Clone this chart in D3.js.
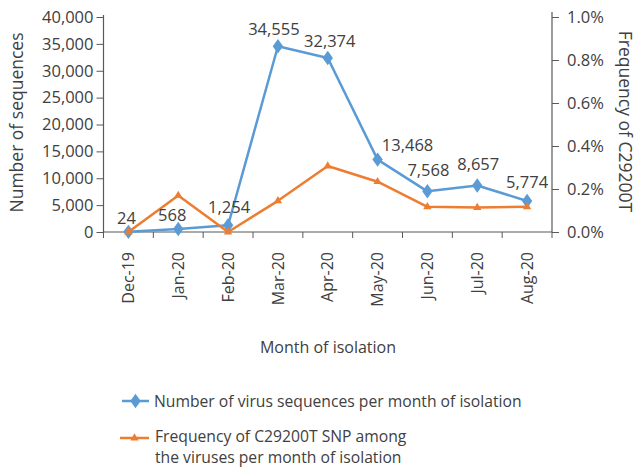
<!DOCTYPE html>
<meta charset="utf-8">
<script src="https://d3js.org/d3.v7.min.js"></script>
<style>
body { margin: 0; background: #fff; }
text { font-family: "Open Sans", sans-serif; fill: #404040; }
.yTicks .tick text { font-size: 16.5px; }
.xTicks .tick text { font-size: 16px; }
.axisTitle { font-size: 17.5px; }
.xTitle { font-size: 16px; }
.dataLabel { font-size: 16.5px; }
.legendText { font-size: 15.7px; }
</style>
<div id="chart"></div>
<script>
// data
const months = ["Dec-19", "Jan-20", "Feb-20", "Mar-20", "Apr-20", "May-20", "Jun-20", "Jul-20", "Aug-20"];
const sequences = [24, 568, 1254, 34555, 32374, 13468, 7568, 8657, 5774];
const frequency = [0.0, 0.17, 0.0, 0.145, 0.307, 0.234, 0.117, 0.114, 0.117]; // percent
const leftTicks = [0, 5000, 10000, 15000, 20000, 25000, 30000, 35000, 40000];
const rightTicks = [0, 0.2, 0.4, 0.6, 0.8, 1.0];
// label nudges (dx, dy) for the count labels
const labelNudge = [[-2, 3], [-6, 3], [1, -1], [-4, 0], [2, 0], [30, 2], [1, -4], [1, -4], [0, -2]];

const W = 637, H = 469;
const plotL = 103.5, plotR = 552, plotT = 17, plotB = 232;

const svg = d3.select("#chart").append("svg")
    .attr("width", W)
    .attr("height", H);

const x = d3.scaleBand().domain(months).range([plotL, plotR]);
const yL = d3.scaleLinear().domain([0, 40000]).range([plotB, plotT]);
const yR = d3.scaleLinear().domain([0, 1]).range([plotB, plotT]);

const axisColor = "#595959";

// left axis
const gL = svg.append("g")
    .attr("class", "yTicks")
    .attr("transform", `translate(${plotL},0)`)
    .call(d3.axisLeft(yL).tickValues(leftTicks).tickSize(7).tickPadding(3)
      .tickFormat(d3.format(",")));
// right axis
const gR = svg.append("g")
    .attr("class", "yTicks")
    .attr("transform", `translate(${plotR},0)`)
    .call(d3.axisRight(yR).tickValues(rightTicks).tickSize(7).tickPadding(8)
      .tickFormat(d => d.toFixed(1) + "%"));

// bottom axis: ticks at category boundaries
const gB = svg.append("g")
    .attr("class", "xTicks")
    .attr("transform", `translate(0,${plotB})`)
    .call(d3.axisBottom(x).tickSize(0).tickPadding(0));
gB.selectAll(".tick text")
    .attr("transform", "rotate(-90)")
    .attr("x", -20)
    .attr("y", 0)
    .attr("dy", "0.35em")
    .style("text-anchor", "end");
gB.selectAll(".boundary")
    .data(months.concat(["end"]))
    .join("line")
    .attr("class", "boundary")
    .attr("x1", (d, i) => plotL + i * x.step())
    .attr("x2", (d, i) => plotL + i * x.step())
    .attr("y1", 0)
    .attr("y2", 6)
    .attr("stroke", axisColor);

[gL, gR, gB].forEach(g => {
  g.selectAll(".domain").attr("stroke", axisColor).attr("stroke-width", 1.2);
  g.selectAll(".tick line").attr("stroke", axisColor);
  g.selectAll(".tick text").style("fill", "#404040");
});
gL.select(".domain").attr("d", `M0,${plotT - 2}V${plotB}`);
gR.select(".domain").attr("d", `M0,${plotT - 5}V${plotB}`);
gB.select(".domain").attr("d", `M${plotL},0H${plotR}`);

const cx = d => x(d) + x.bandwidth() / 2;
const blue = "#5b9bd5", orange = "#ed7d31";

// sequences line
svg.append("path")
    .datum(sequences)
    .attr("fill", "none")
    .attr("stroke", blue)
    .attr("stroke-width", 2.5)
    .attr("stroke-linejoin", "round")
    .attr("d", d3.line().x((d, i) => cx(months[i])).y(d => yL(d)));

const diamond = d3.symbol().type(d3.symbolDiamond).size(60);
svg.selectAll(".seqPt")
    .data(sequences)
    .join("path")
    .attr("class", "seqPt")
    .attr("transform", (d, i) => `translate(${cx(months[i])},${yL(d)}) scale(1.25,1)`)
    .attr("d", diamond)
    .attr("fill", blue);

// frequency line
svg.append("path")
    .datum(frequency)
    .attr("fill", "none")
    .attr("stroke", orange)
    .attr("stroke-width", 2.5)
    .attr("stroke-linejoin", "round")
    .attr("d", d3.line().x((d, i) => cx(months[i])).y(d => yR(d)));

const tri = d3.symbol().type(d3.symbolTriangle).size(30);
svg.selectAll(".freqPt")
    .data(frequency)
    .join("path")
    .attr("class", "freqPt")
    .attr("transform", (d, i) => `translate(${cx(months[i])},${yR(d)})`)
    .attr("d", tri)
    .attr("fill", orange);

// data labels
svg.selectAll(".dataLabel")
    .data(sequences)
    .join("text")
    .attr("class", "dataLabel")
    .attr("x", (d, i) => cx(months[i]) + labelNudge[i][0])
    .attr("y", (d, i) => yL(d) - 11 + labelNudge[i][1])
    .attr("text-anchor", "middle")
    .text(d3.format(","));

// axis titles
svg.append("text")
    .attr("class", "axisTitle")
    .attr("transform", `translate(23,${(plotT + plotB) / 2 - 2}) rotate(-90)`)
    .attr("text-anchor", "middle")
    .text("Number of sequences");

svg.append("text")
    .attr("class", "axisTitle")
    .attr("transform", `translate(619,${(plotT + plotB) / 2 - 3}) rotate(90)`)
    .attr("text-anchor", "middle")
    .text("Frequency of C29200T");

svg.append("text")
    .attr("class", "xTitle")
    .attr("x", 328)
    .attr("y", 353)
    .attr("text-anchor", "middle")
    .text("Month of isolation");

// legend
const legend = svg.append("g");
const l1 = legend.append("g").attr("transform", "translate(122,401)");
l1.append("line").attr("x1", 0).attr("x2", 27).attr("stroke", blue).attr("stroke-width", 2.5);
l1.append("path").attr("d", diamond).attr("transform", "translate(13.5,0) scale(1.25,1)").attr("fill", blue);
l1.append("text").attr("class", "legendText").attr("x", 32).attr("dy", "0.35em")
    .text("Number of virus sequences per month of isolation");

const l2 = legend.append("g").attr("transform", "translate(122,438)");
l2.append("line").attr("x1", -2).attr("x2", 27).attr("stroke", orange).attr("stroke-width", 2.5);
l2.append("path").attr("d", tri).attr("transform", "translate(12.5,0)").attr("fill", orange);
l2.append("text").attr("class", "legendText").attr("x", 33).attr("y", -1.5).attr("dy", "0.35em")
    .text("Frequency of C29200T SNP among");
l2.append("text").attr("class", "legendText").attr("x", 33).attr("y", 20).attr("dy", "0.35em")
    .text("the viruses per month of isolation");
</script>
